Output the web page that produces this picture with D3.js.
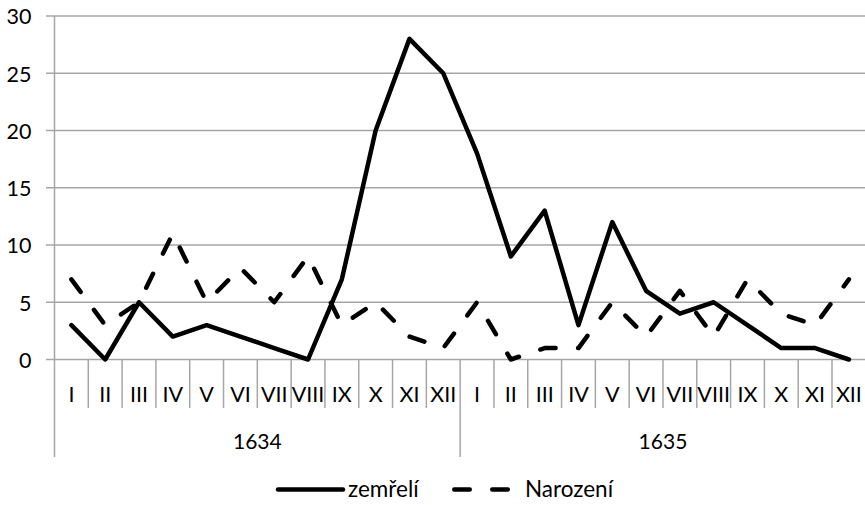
<!DOCTYPE html>
<html><head><meta charset="utf-8">
<script src="https://cdn.jsdelivr.net/npm/d3@7"></script>
<style>body{margin:0;background:#fff}svg{display:block}text{font-family:Lato,"Open Sans",sans-serif;fill:#000}</style>
</head><body><svg id="c" width="865" height="505"></svg>
<script>
const months = ["I","II","III","IV","V","VI","VII","VIII","IX","X","XI","XII"];
const years = ["1634","1635"];
const zemreli = [3,0,5,2,3,2,1,0,7,20,28,25, 18,9,13,3,12,6,4,5,3,1,1,0];
const narozeni = [7,3,5,11,5,8,5,9,3,5,2,1, 5,0,1,1,5,2,6,2,7,4,3,7];
const yTicks = [0,5,10,15,20,25,30];
const seriesNames = ["zemřelí","Narození"];

const svg = d3.select("#c");
const N = years.length * months.length;
const idx = d3.range(N);
const x = d3.scaleBand().domain(idx).range([54.5, 865.8]).padding(0);
const y = d3.scaleLinear().domain([0, 30]).range([359.5, 16]);
const grey = "#a6a6a6";

// gridlines
svg.append("g").selectAll("line").data(yTicks).join("line")
  .attr("x1", 46).attr("x2", 865)
  .attr("y1", d => y(d)).attr("y2", d => y(d))
  .attr("stroke", grey).attr("stroke-width", 1.5);

// y axis labels
const yAxis = d3.axisLeft(y).tickValues(yTicks).tickSize(0).tickPadding(0);
const gy = svg.append("g").attr("transform", "translate(31.5,0)").call(yAxis);
gy.select(".domain").remove();
gy.selectAll("text").attr("font-size", 21.5).attr("font-family", "Lato").attr("dy", "0.36em").attr("fill", "#000");

// y axis line
svg.append("line").attr("x1", 54.5).attr("x2", 54.5).attr("y1", 16).attr("y2", 457)
  .attr("stroke", grey).attr("stroke-width", 1.5);

// category ticks
svg.append("g").selectAll("line").data(d3.range(1, N)).join("line")
  .attr("x1", d => x(d)).attr("x2", d => x(d))
  .attr("y1", y(0)).attr("y2", d => d % months.length === 0 ? 457 : 408)
  .attr("stroke", grey).attr("stroke-width", 1.5);

// month labels
svg.append("g").selectAll("text").data(idx).join("text")
  .attr("x", d => x(d) + x.bandwidth() / 2).attr("y", 401.5)
  .attr("text-anchor", "middle").attr("font-size", 21.5)
  .text(d => months[d % months.length]);

// year labels
svg.append("g").selectAll("text").data(years).join("text")
  .attr("x", (d, i) => (x(i * months.length) + x((i + 1) * months.length - 1) + x.bandwidth()) / 2)
  .attr("y", 449).attr("text-anchor", "middle").attr("font-size", 21)
  .text(d => d);

const line = d3.line().x((d, i) => x(i) + x.bandwidth() / 2).y(d => y(d));
const dash = "15.5,22.5";

svg.append("path").datum(narozeni).attr("d", line)
  .attr("fill", "none").attr("stroke", "#000").attr("stroke-width", 4.5)
  .attr("stroke-linecap", "round").attr("stroke-linejoin", "round")
  .attr("stroke-dasharray", dash);

svg.append("path").datum(zemreli).attr("d", line)
  .attr("fill", "none").attr("stroke", "#000").attr("stroke-width", 4.5)
  .attr("stroke-linecap", "round").attr("stroke-linejoin", "round");

// legend
const lg = svg.append("g");
lg.append("line").attr("x1", 278).attr("x2", 343).attr("y1", 489.5).attr("y2", 489.5)
  .attr("stroke", "#000").attr("stroke-width", 4.5).attr("stroke-linecap", "round");
lg.append("text").attr("x", 348).attr("y", 497).attr("font-size", 22.5).text(seriesNames[0]);
lg.append("line").attr("x1", 454.25).attr("x2", 509.75).attr("y1", 489.5).attr("y2", 489.5)
  .attr("stroke", "#000").attr("stroke-width", 4.5).attr("stroke-linecap", "round")
  .attr("stroke-dasharray", dash);
lg.append("text").attr("x", 525).attr("y", 497).attr("font-size", 22.5).text(seriesNames[1]);
</script></body></html>
